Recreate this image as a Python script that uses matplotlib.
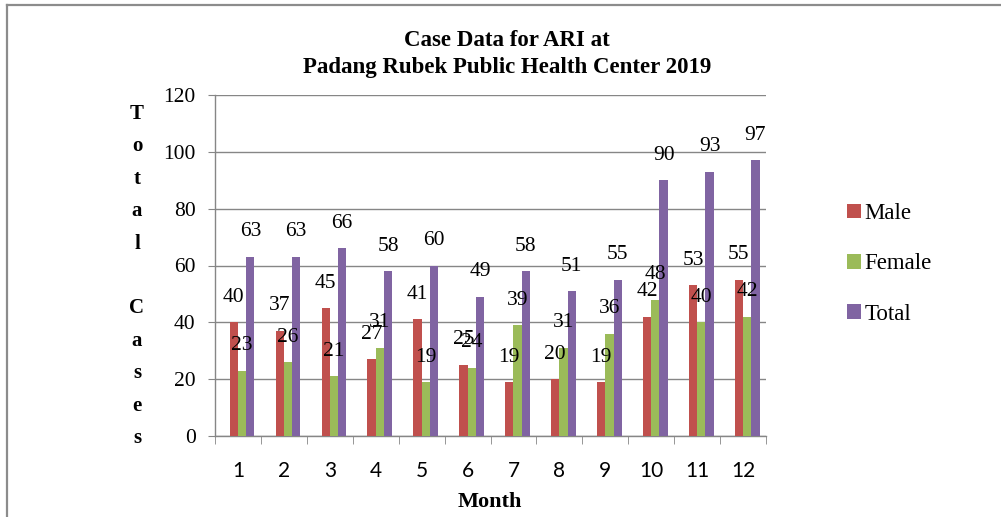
import matplotlib
matplotlib.use("Agg")
import matplotlib.pyplot as plt
from matplotlib.patches import Patch
from matplotlib.lines import Line2D
import numpy as np

months = ["1", "2", "3", "4", "5", "6", "7", "8", "9", "10", "11", "12"]
male = [40, 37, 45, 27, 41, 25, 19, 20, 19, 42, 53, 55]
female = [23, 26, 21, 31, 19, 24, 39, 31, 36, 48, 40, 42]
total = [63, 63, 66, 58, 60, 49, 58, 51, 55, 90, 93, 97]
series_names = ["Male", "Female", "Total"]
colors = ["#C0504D", "#9BBB59", "#8064A2"]
yticks = [0, 20, 40, 60, 80, 100, 120]

SERIF = "Liberation Serif"
SANS = "Lato"

fig = plt.figure(figsize=(10.01, 5.17), dpi=100)
ax = fig.add_axes([215/1001, 81/517, 551/1001, 341/517])

x = np.arange(1, len(months) + 1)
offsets = [-0.09, 0.09, 0.27]
width = 0.18
grid_c = "#868686"

for vals, off, col in zip([male, female, total], offsets, colors):
    bars = ax.bar(x + off, vals, width=width, color=col, zorder=3)
    for b, v in zip(bars, vals):
        ax.annotate(str(v), (b.get_x() + b.get_width() / 2, v),
                    xytext=(0, 18), textcoords="offset points",
                    ha="center", va="center", fontsize=15.5,
                    family=SERIF, color="black", zorder=5)

ax.set_xlim(0.5, len(months) + 0.5)
ax.set_ylim(0, 120)
ax.set_yticks(yticks)
ax.set_yticklabels([str(t) for t in yticks], family=SERIF, fontsize=15.5)
ax.set_xticks(x)
ax.set_xticklabels(months, family=SANS, fontsize=15)
ax.set_xticks(np.arange(0.5, len(months) + 1, 1), minor=True)
ax.tick_params(axis="x", which="major", length=0, pad=18)
ax.tick_params(axis="x", which="minor", length=6, color=grid_c, direction="out")
ax.tick_params(axis="y", which="major", length=5, color=grid_c, pad=9)
ax.yaxis.grid(True, color=grid_c, linewidth=1, zorder=0)
ax.set_axisbelow(True)
for s in ["top", "right"]:
    ax.spines[s].set_visible(False)
for s in ["left", "bottom"]:
    ax.spines[s].set_color(grid_c)
    ax.spines[s].set_linewidth(1)

# Title
fig.text(507/1001, 1 - 40/517, "Case Data for ARI at", ha="center", va="center",
         fontsize=16.5, fontweight="bold", family=SERIF)
fig.text(507/1001, 1 - 68/517, "Padang Rubek Public Health Center 2019", ha="center",
         va="center", fontsize=16.5, fontweight="bold", family=SERIF)

# Y label (stacked letters)
fig.text(137/1001, 1 - 276/517, "T\no\nt\na\nl\n\nC\na\ns\ne\ns", ha="center", va="center",
         fontsize=15, fontweight="bold", family=SERIF, linespacing=1.83)

# X label
fig.text(490/1001, 1 - 502/517, "Month", ha="center", va="center",
         fontsize=16, fontweight="bold", family=SERIF)

# Legend
handles = [Patch(facecolor=c, edgecolor="none") for c in colors]
fig.legend(handles, series_names, loc="center left", bbox_to_anchor=(847/1001, 1 - 264/517),
           frameon=False, borderaxespad=0, borderpad=0, handlelength=0.6, handleheight=0.6,
           handletextpad=0.15, labelspacing=1.28, prop={"family": SERIF, "size": 16.5})

# Outer frame
fig.add_artist(Line2D([6.5/1001, 1], [1 - 4.5/517, 1 - 4.5/517], color="#8c8c8c", lw=1.6,
                      transform=fig.transFigure))
fig.add_artist(Line2D([6.5/1001, 6.5/1001], [0, 1 - 4.5/517], color="#8c8c8c", lw=1.6,
                      transform=fig.transFigure))

fig.savefig("out.png", dpi=100)
